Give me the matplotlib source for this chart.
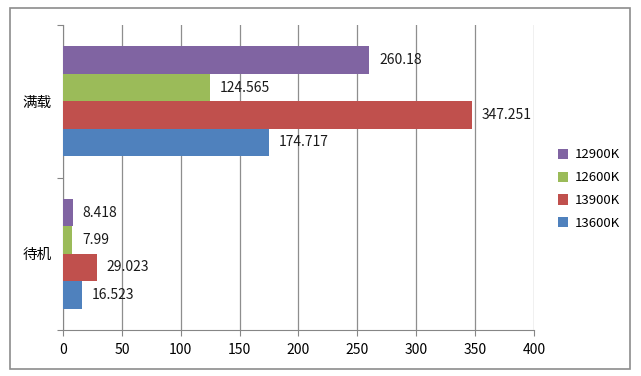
import numpy as np
import matplotlib.pyplot as plt
from matplotlib.patches import Rectangle

plt.rcParams['font.family'] = ['Noto Sans CJK SC', 'DejaVu Sans']

categories = ['待机', '满载']
series = ['12900K', '12600K', '13900K', '13600K']
values = {
    '12900K': [8.418, 260.18],
    '12600K': [7.99, 124.565],
    '13900K': [29.023, 347.251],
    '13600K': [16.523, 174.717],
}
labels = {
    '12900K': ['8.418', '260.18'],
    '12600K': ['7.99', '124.565'],
    '13900K': ['29.023', '347.251'],
    '13600K': ['16.523', '174.717'],
}
colors = ['#8064A2', '#9BBB59', '#C0504D', '#4F81BD']
xticks = [0, 50, 100, 150, 200, 250, 300, 350, 400]

fig = plt.figure(figsize=(6.41, 3.76), dpi=100)
ax = fig.add_axes([0.0983, 0.1223, 0.7347, 0.8112])

# outer chart border
fig.patches.append(Rectangle((10 / 641, 1 - 369 / 376), 620 / 641, 361 / 376,
                             transform=fig.transFigure, fill=False,
                             edgecolor='#8c8c8c', linewidth=1.2))

h = 0.18
offsets = [0.27, 0.09, -0.09, -0.27]
y = np.arange(len(categories))
for s, c, off in zip(series, colors, offsets):
    bars = ax.barh(y + off, values[s], height=h, color=c, label=s, zorder=3)
    for b, txt in zip(bars, labels[s]):
        ax.annotate(txt, (b.get_width(), b.get_y() + b.get_height() / 2),
                    xytext=(7, 0), textcoords='offset points',
                    ha='left', va='center', fontsize=10, color='#1a1a1a')

ax.set_xlim(0, 400)
ax.set_ylim(-0.5, 1.5)
ax.set_xticks(xticks)
ax.set_xticklabels([str(t) for t in xticks], fontsize=10)
ax.set_yticks([-0.5, 0.5, 1.5])
ax.set_yticklabels([])
ax.set_yticks(y, minor=True)
ax.set_yticklabels(categories, minor=True, fontsize=10.5)
ax.tick_params(axis='y', which='minor', length=0, pad=8)
ax.tick_params(axis='y', which='major', length=4, color='#868686')
ax.tick_params(axis='x', length=4, color='#868686', pad=5)
ax.grid(axis='x', color='#8e8e8e', linewidth=0.9, zorder=0)
for sp in ['top', 'right']:
    ax.spines[sp].set_visible(False)
for sp in ['left', 'bottom']:
    ax.spines[sp].set_color('#868686')

ax.legend(loc='center left', bbox_to_anchor=(1.05, 0.462), frameon=False,
          fontsize=9.5, handlelength=0.8, handleheight=0.8,
          labelspacing=0.75, handletextpad=0.5, borderaxespad=0, borderpad=0)

fig.savefig('out.png', dpi=100)
